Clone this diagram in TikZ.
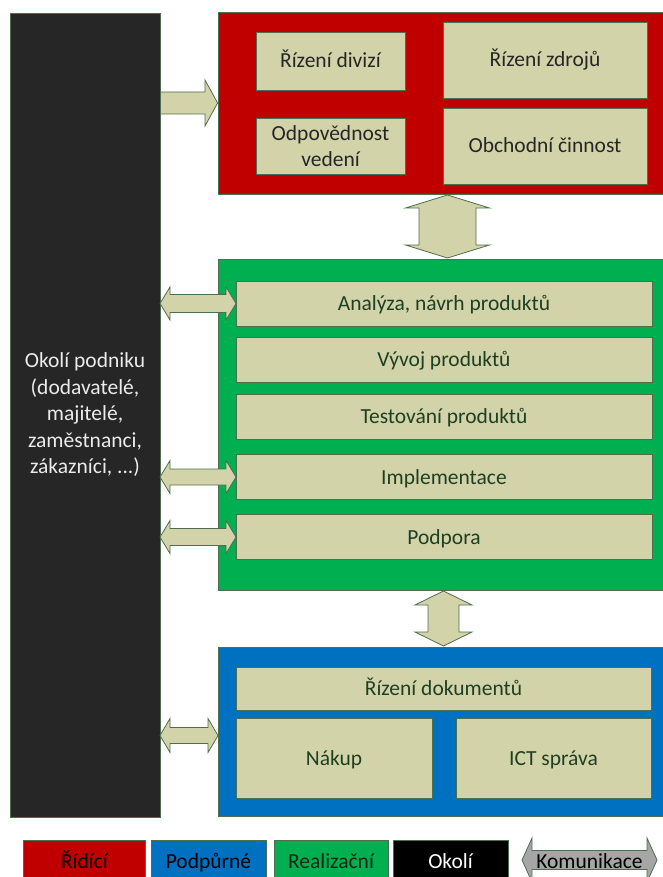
\documentclass[tikz,border=0pt]{standalone}
\usepackage{fontspec}
\setmainfont{Carlito}
\usetikzlibrary{calc}

\definecolor{ridred}{HTML}{C00000}
\definecolor{podblue}{HTML}{0070C0}
\definecolor{realgreen}{HTML}{00B050}
\definecolor{okolgray}{HTML}{262626}
\definecolor{boxtan}{HTML}{D3D3AA}
\definecolor{boxline}{HTML}{4E6E50}
\definecolor{txtgreen}{HTML}{1F3F22}
\definecolor{komgray}{HTML}{A6A6A6}

\tikzset{
  panel/.style={draw=boxline, line width=0.8pt, inner sep=0pt},
  inbox/.style={draw=boxline, line width=0.8pt, fill=boxtan, inner sep=2pt,
    text=txtgreen, align=center, font=\fontsize{21.5}{26.5}\selectfont},
  oneline/.style={text height=17pt, text depth=3pt},
  legbox/.style={draw=boxline, line width=0.8pt, minimum height=44pt, inner sep=0pt},
  legtext/.style={font=\fontsize{21.5}{26}\selectfont, oneline},
  blockarrow/.style={draw=boxline, line width=0.8pt, fill=boxtan, line join=miter}
}

% horizontal double arrow: x1, x2, y, head half, shaft half
\newcommand{\hdarrow}[6][blockarrow]{%
  \draw[#1] (#2,#4) -- ++(10,-#5) -- ++(0,#5-#6) -- ($(#3,#4)+(-10,-#6)$)
    -- ++(0,#6-#5) -- (#3,#4) -- ++(-10,#5) -- ++(0,#6-#5)
    -- ($(#2,#4)+(10,#6)$) -- ++(0,#5-#6) -- cycle;}
% vertical double arrow: x, y1, y2, head half, shaft half, head length
\newcommand{\vdarrow}[6]{%
  \draw[blockarrow] (#1,#2) -- ++(#4,#6) -- ++(#5-#4,0) -- ($(#1,#3)+(#5,-#6)$)
    -- ++(#4-#5,0) -- (#1,#3) -- ++(-#4,-#6) -- ++(#4-#5,0)
    -- ($(#1,#2)+(-#5,#6)$) -- ++(#5-#4,0) -- cycle;}

\begin{document}
\begin{tikzpicture}[x=1pt,y=-1pt]
  \useasboundingbox (0,0) rectangle (663,877);
  \clip (0,0) rectangle (663,877);

  % okoli
  \node[panel, fill=okolgray, minimum width=150pt, minimum height=804pt,
    text=white!92!black, align=center, font=\fontsize{21.5}{26.5}\selectfont]
    (okoli) at (85,415) {Okolí podniku\\(dodavatelé,\\majitelé,\\zaměstnanci,\\zákazníci, ...)};

  % panels
  \node[panel, fill=ridred, minimum width=452pt, minimum height=182pt] (ridici) at (444,103) {};
  \node[panel, fill=realgreen, minimum width=452pt, minimum height=331pt] (realiz) at (444,424.5) {};
  \node[panel, fill=podblue, minimum width=452pt, minimum height=169pt] (podpur) at (444,731.5) {};

  % ridici
  \node[inbox, oneline, text=black!85, minimum width=149pt, minimum height=58pt] (rizdiv) at (330.5,61) {Řízení divizí};
  \node[inbox, oneline, text=black!85, minimum width=204pt, minimum height=76pt] (rizzdr) at (545,60) {Řízení zdrojů};
  \node[inbox, text=black!85, minimum width=149pt, minimum height=56pt] (odpved) at (330.5,146) {Odpovědnost\\vedení};
  \node[inbox, oneline, text=black!85, minimum width=204pt, minimum height=76pt] (obchod) at (545,146) {Obchodní činnost};

  % realizacni
  \foreach \n/\y/\t in {analyza/303.5/{Analýza, návrh produktů}, vyvoj/359.5/{Vývoj produktů},
      testovani/416.5/{Testování produktů}, implem/477/{Implementace}, podpora/537/{Podpora}} {
    \node[inbox, oneline, minimum width=416pt, minimum height=45pt] (\n) at (444,\y) {\t};
  }

  % podpurne
  \node[inbox, oneline, minimum width=415pt, minimum height=43pt] (rizdok) at (443.5,688.5) {Řízení dokumentů};
  \node[inbox, oneline, minimum width=196pt, minimum height=80pt] (nakup) at (334,758) {Nákup};
  \node[inbox, oneline, minimum width=195pt, minimum height=80pt] (ict) at (553.5,758) {ICT správa};

  % okoli -> ridici
  \draw[blockarrow] (okoli.east |- 0,92) -- (205,92) -- (205,80) -- (ridici.west |- 0,103)
    -- (205,126) -- (205,114) -- (okoli.east |- 0,114) -- cycle;

  % okoli <-> realizacni, podpurne
  \hdarrow{160}{236}{303.5}{16.5}{9}
  \hdarrow{160}{236}{477}{16.5}{8}
  \hdarrow{160}{236}{537}{16.5}{8.5}
  \hdarrow{160}{218}{735.5}{17}{8}

  % mezi panely
  \vdarrow{447.5}{195}{258}{42}{28.5}{13}
  \vdarrow{443.5}{591}{646}{28.5}{15.5}{14}

  % legenda
  \node[legbox, fill=ridred, minimum width=122pt, anchor=north west] (legrid) at (23,840) {};
  \node[legbox, fill=podblue, minimum width=115pt, anchor=north west] (legpod) at (151,840) {};
  \node[legbox, fill=realgreen, minimum width=114pt, anchor=north west] (legreal) at (274,840) {};
  \node[legbox, fill=black, minimum width=115pt, anchor=north west] (legok) at (393,840) {};
  \node[legtext] at (84.5,861) {Řídící};
  \node[legtext] at (208.5,861) {Podpůrné};
  \node[legtext, text=txtgreen!60!black] at (331,861) {Realizační};
  \node[legtext, text=white] at (450.5,861) {Okolí};
  \hdarrow[blockarrow, fill=komgray]{522}{657}{860}{22}{9.5}
  \node[legtext] (legkom) at (589.5,861) {Komunikace};
\end{tikzpicture}
\end{document}
